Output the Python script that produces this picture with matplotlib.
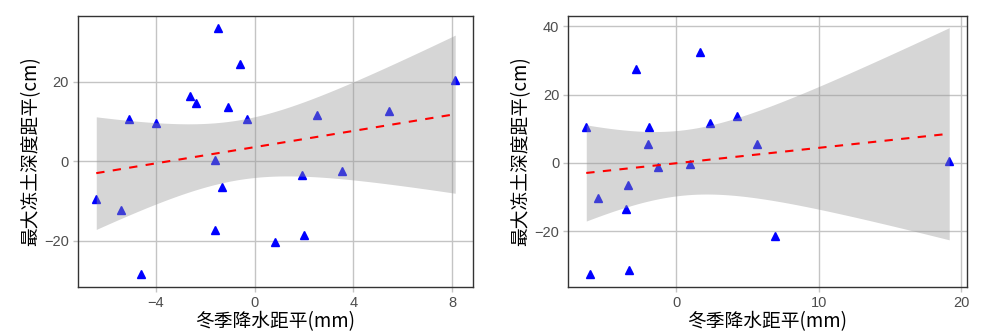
import numpy as np
import matplotlib
matplotlib.use("Agg")
import matplotlib.pyplot as plt

plt.rcParams['font.family'] = ['Noto Sans CJK SC', 'DejaVu Sans']

# winter precipitation anomaly (mm) vs. max frozen soil depth anomaly (cm), two stations
precipA = [-6.41, -5.40, -5.10, -4.59, -4.00, -2.61, -2.38, -1.60, -1.60, -1.50, -1.31,
           -1.09, -0.60, -0.30, 0.81, 1.90, 2.01, 2.52, 3.52, 5.44, 8.12]
depthA = [-9.5, -12.3, 10.7, -28.4, 9.6, 16.5, 14.6, 0.4, -17.4, 33.6, -6.5,
          13.6, 24.5, 10.7, -20.4, -3.4, -18.5, 11.6, -2.4, 12.6, 20.5]

precipB = [-6.32, -6.04, -5.52, -3.51, -3.39, -3.30, -2.81, -1.99, -1.90, -1.31,
           0.96, 1.66, 2.37, 4.26, 5.67, 6.95, 19.17]
depthB = [10.4, -32.5, -10.3, -13.5, -6.4, -31.4, 27.5, 5.6, 10.5, -1.2,
          -0.3, 32.5, 11.6, 13.6, 5.6, -21.4, 0.5]

xTicksA = [-4, 0, 4, 8]
yTicksA = [-20, 0, 20]
xTicksB = [0, 10, 20]
yTicksB = [-20, 0, 20, 40]

T975 = {15: 2.131, 19: 2.093}

XLABEL = "冬季降水距平(mm)"
YLABEL = "最大冻土深度距平(cm)"


# least-squares line with 95% confidence band, like geom_smooth(method="lm")
def lmBand(x, y):
    x = np.asarray(x)
    y = np.asarray(y)
    n = len(x)
    b, a = np.polyfit(x, y, 1)
    resid = y - (a + b * x)
    s = np.sqrt(np.sum(resid ** 2) / (n - 2))
    sxx = np.sum((x - x.mean()) ** 2)
    xs = np.linspace(x.min(), x.max(), 80)
    fit = a + b * xs
    se = s * np.sqrt(1.0 / n + (xs - x.mean()) ** 2 / sxx)
    t = T975[n - 2]
    return xs, fit, fit - t * se, fit + t * se


def drawPanel(ax, x, y, xticks, yticks, xlim, ylim):
    ax.set_xlim(*xlim)
    ax.set_ylim(*ylim)
    ax.set_xticks(xticks)
    ax.set_yticks(yticks)
    ax.grid(True, color='#c4c4c4', linewidth=1.0)
    ax.set_axisbelow(True)

    ax.plot(x, y, linestyle='none', marker='^', markersize=6.2,
            color='#0000ff', zorder=2)

    xs, fit, lo, hi = lmBand(x, y)
    ax.fill_between(xs, lo, hi, color='#999999', alpha=0.4, linewidth=0, zorder=3)
    ax.plot(xs, fit, color='#ff0000', linestyle=(0, (4, 4)), linewidth=1.5, zorder=4)

    for sp in ax.spines.values():
        sp.set_color('#333333')
        sp.set_linewidth(1.0)
    ax.tick_params(axis='both', colors='#c4c4c4', length=3.5, width=1.0,
                   labelcolor='#4d4d4d', labelsize=10.5, pad=3)
    for lab in ax.get_xticklabels() + ax.get_yticklabels():
        lab.set_family('Liberation Sans')
    ax.set_xlabel(XLABEL, fontsize=13.5, color='black', labelpad=1)
    ax.set_ylabel(YLABEL, fontsize=13.5, color='black', labelpad=2)


fig = plt.figure(figsize=(9.96, 3.35), dpi=100)
axA = fig.add_axes([0.0783, 0.1433, 0.3966, 0.8089])
axB = fig.add_axes([0.5706, 0.1433, 0.4000, 0.8089])

drawPanel(axA, precipA, depthA, xTicksA, yTicksA, (-7.15, 8.84), (-31.7, 36.6))
drawPanel(axB, precipB, depthB, xTicksB, yTicksB, (-7.58, 20.4), (-36.3, 43.0))

fig.savefig("out.png", dpi=100, facecolor='white')
